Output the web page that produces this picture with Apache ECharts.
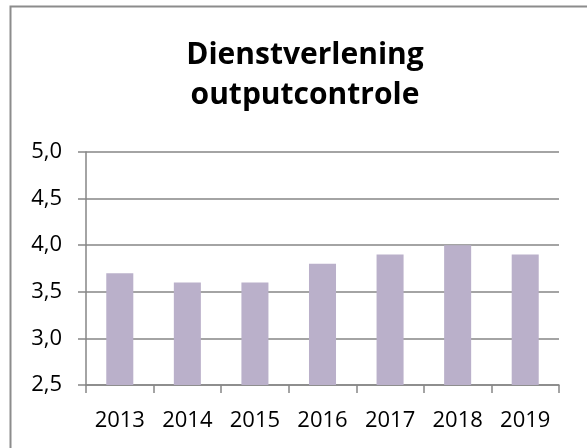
<!DOCTYPE html>
<html><head><meta charset="utf-8">
<script src="https://cdn.jsdelivr.net/npm/echarts@6/dist/echarts.min.js"></script>
<style>html,body{margin:0;padding:0;background:#fff}#c{width:587px;height:448px}</style>
</head><body><div id="c"></div>
<script>
var titleText = 'Dienstverlening\noutputcontrole';
var categories = ['2013','2014','2015','2016','2017','2018','2019'];
var values = [3.7, 3.6, 3.6, 3.8, 3.9, 4.0, 3.9];
var yMin = 2.5, yMax = 5.0, yStep = 0.5;

var chart = echarts.init(document.getElementById('c'), null, {renderer:'canvas'});
chart.setOption({
  animation: false,
  backgroundColor: '#fff',
  graphic: [{type:'rect', shape:{x:10.5, y:6.5, width:600, height:500}, style:{fill:'none', stroke:'#8c8c8c', lineWidth:2}, z:100}],
  title: {
    text: titleText, left: 300, top: 30, textAlign: 'center',
    textStyle: {fontFamily:'Open Sans', fontWeight:'bold', fontSize:30, lineHeight:40, color:'#000'}
  },
  grid: {left: 86, right: 28, top: 152, bottom: 63, containLabel: false},
  xAxis: {
    type: 'category', data: categories,
    axisLine: {lineStyle:{color:'#868686', width:1.5}},
    axisTick: {show:true, length:8, alignWithLabel:false, lineStyle:{color:'#868686', width:1.5}},
    axisLabel: {margin:25, fontFamily:'Open Sans', fontSize:22, color:'#000'}
  },
  yAxis: {
    type: 'value', min: yMin, max: yMax, interval: yStep,
    axisLine: {show:true, lineStyle:{color:'#868686', width:1.5}},
    axisTick: {show:true, length:8, lineStyle:{color:'#868686', width:1.5}},
    splitLine: {lineStyle:{color:'#868686', width:1.5}},
    axisLabel: {margin:24, fontFamily:'Open Sans', fontSize:22, color:'#000',
      formatter: function(v){ return v.toFixed(1).replace('.', ','); }}
  },
  series: [{type:'bar', data: values, barWidth:'40%', itemStyle:{color:'#BAB0CA'}}]
});
</script></body></html>
